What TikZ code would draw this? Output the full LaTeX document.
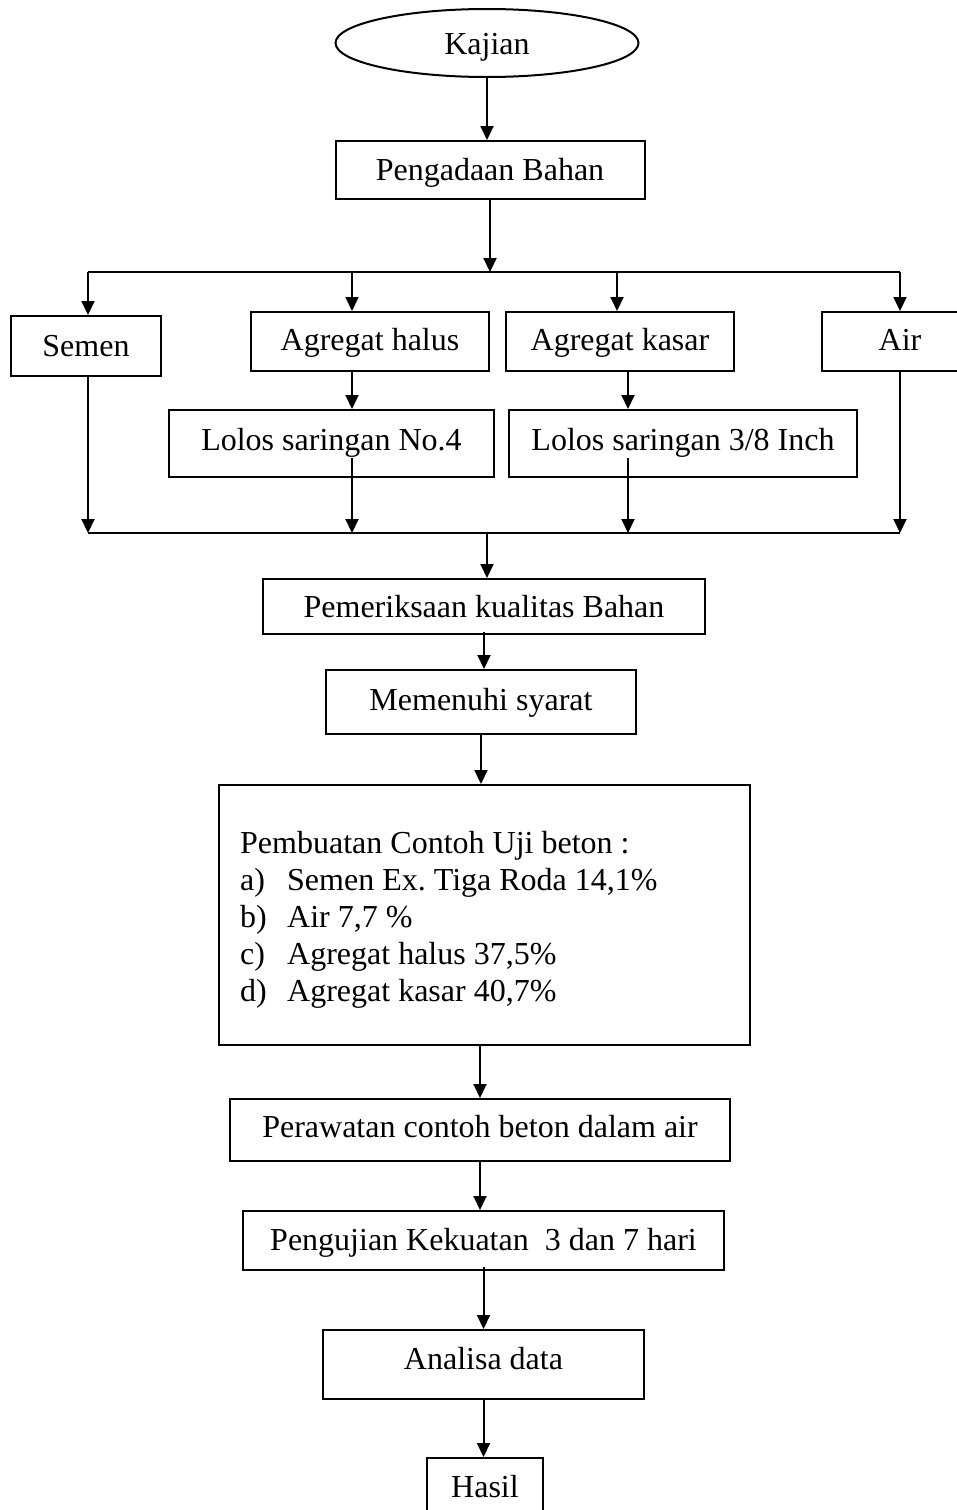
\documentclass[tikz,border=0pt]{standalone}
\usepackage{fontspec}
\setmainfont{Liberation Serif}
\usetikzlibrary{arrows.meta,shapes.geometric,calc}
\frenchspacing
\begin{document}
\begin{tikzpicture}[x=1pt,y=-1pt,
  txt/.style={font=\fontsize{32}{37}\selectfont},
  box/.style={draw, line width=2pt, rectangle, inner sep=0pt, txt, text height=22pt, text depth=4pt},
  oval/.style={draw, line width=2pt, ellipse, inner sep=0pt, txt, text height=22pt, text depth=0pt},
  arr/.style={line width=2pt, -{Triangle[width=13pt,length=14pt]}},
  ln/.style={line width=2pt}]
\useasboundingbox (0,0) rectangle (957,1510);
\clip (0,0) rectangle (957,1510);

% nodes
\node[oval, minimum width=303pt, minimum height=68pt] (kajian) at (487,43) {Kajian};
\node[box, text depth=2pt, minimum width=309pt, minimum height=58pt] (peng) at (490,170) {Pengadaan Bahan};
\node[box, text depth=2pt, minimum width=150pt, minimum height=60pt] (semen) at (86,346) {Semen};
\node[box, text depth=5pt, minimum width=238pt, minimum height=59pt] (halus) at (370,341.5) {Agregat halus};
\node[box, text depth=5pt, minimum width=228pt, minimum height=59pt] (kasar) at (620,341.5) {Agregat kasar};
\node[box, text depth=5pt, minimum width=156pt, minimum height=59pt] (air) at (900,341.5) {Air};
\node[box, text depth=9pt, minimum width=325pt, minimum height=67pt] (lolosA) at (331.5,443.5) {Lolos saringan No.4};
\node[box, text depth=9pt, minimum width=348pt, minimum height=67pt] (lolosB) at (683,443.5) {Lolos saringan 3/8 Inch};
\node[box, text depth=-3pt, minimum width=442pt, minimum height=55pt] (pemer) at (484,606.5) {Pemeriksaan kualitas Bahan};
\node[box, text depth=4.6pt, minimum width=310pt, minimum height=64pt] (memen) at (481,702) {Memenuhi syarat};
\node[box, minimum width=531pt, minimum height=260pt] (buat) at (484.5,915) {};
\node[txt, anchor=base west, inner sep=0pt] (buattxt) at (240,853) {%
  \begin{tabular}[t]{@{}l@{}}
  Pembuatan Contoh Uji beton :\\
  \makebox[47pt][l]{a)}Semen Ex. Tiga Roda 14,1\%\\
  \makebox[47pt][l]{b)}Air 7,7 \%\\
  \makebox[47pt][l]{c)}Agregat halus 37,5\%\\
  \makebox[47pt][l]{d)}Agregat kasar 40,7\%
  \end{tabular}};
\node[box, text depth=6.6pt, minimum width=500pt, minimum height=62pt] (rawat) at (480,1130) {Perawatan contoh beton dalam air};
\node[box, text depth=3pt, minimum width=481pt, minimum height=59pt] (uji) at (483.5,1240.5) {Pengujian Kekuatan~ 3 dan 7 hari};
\node[box, text depth=13pt, minimum width=321pt, minimum height=69pt] (analisa) at (483.5,1364.5) {Analisa data};
\node[box, text depth=2pt, minimum width=116pt, minimum height=58pt] (hasil) at (485,1487) {Hasil};

% junction coordinates
\coordinate (jL) at (88,272);
\coordinate (jH) at (352,272);
\coordinate (jK) at (617,272);
\coordinate (jR) at (900,272);
\coordinate (bL) at (88,533);
\coordinate (bH) at (352,533);
\coordinate (bK) at (628,533);
\coordinate (bR) at (900,533);
\coordinate (bM) at (487,533);

% connectors
\draw[arr] (kajian.south) -- (kajian.south |- peng.north);
\draw[arr] (peng.south) -- (peng.south |- jL);
\draw[ln] (jL) -- (jR);
\draw[arr] (jL) -- (jL |- semen.north);
\draw[arr] (jH) -- (jH |- halus.north);
\draw[arr] (jK) -- (jK |- kasar.north);
\draw[arr] (jR) -- (jR |- air.north);
\draw[arr] (bH |- halus.south) -- (bH |- lolosA.north);
\draw[arr] (bK |- kasar.south) -- (bK |- lolosB.north);
\draw[arr] ($(bH |- lolosA.south)+(0,-20)$) -- (bH);
\draw[arr] ($(bK |- lolosB.south)+(0,-20)$) -- (bK);
\draw[arr] (bL |- semen.south) -- (bL);
\draw[arr] (bR |- air.south) -- (bR);
\draw[ln] (bL) -- (bR);
\draw[arr] (bM) -- (bM |- pemer.north);
\draw[arr] ($(pemer.south)+(0,-3)$) -- (pemer.south |- memen.north);
\draw[arr] (memen.south) -- (memen.south |- buat.north);
\draw[arr] (buat.south -| rawat.north) -- (rawat.north);
\draw[arr] (rawat.south) -- (rawat.south |- uji.north);
\draw[arr] ($(uji.south)+(0,-4)$) -- (analisa.north);
\draw[arr] (analisa.south) -- (analisa.south |- hasil.north);
\end{tikzpicture}
\end{document}
